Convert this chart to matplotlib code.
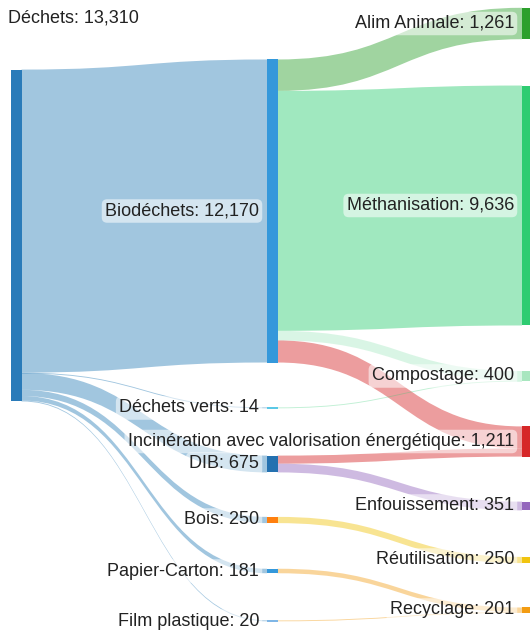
import matplotlib
matplotlib.use("Agg")
import matplotlib.pyplot as plt
from matplotlib.path import Path
from matplotlib.patches import PathPatch, Rectangle

# ---------------- data ----------------
node_names = ["Déchets", "Biodéchets", "Déchets verts", "DIB", "Bois", "Papier-Carton",
              "Film plastique", "Alim Animale", "Méthanisation", "Compostage",
              "Incinération avec valorisation énergétique", "Enfouissement",
              "Réutilisation", "Recyclage"]
link_source = ["Déchets", "Déchets", "Déchets", "Déchets", "Déchets", "Déchets",
               "Biodéchets", "Biodéchets", "Biodéchets", "Biodéchets",
               "Déchets verts", "DIB", "DIB", "Bois", "Papier-Carton", "Film plastique"]
link_target = ["Biodéchets", "Déchets verts", "DIB", "Bois", "Papier-Carton", "Film plastique",
               "Alim Animale", "Méthanisation", "Compostage",
               "Incinération avec valorisation énergétique",
               "Compostage", "Incinération avec valorisation énergétique", "Enfouissement",
               "Réutilisation", "Recyclage", "Recyclage"]
link_value = [12170, 14, 675, 250, 181, 20,
              1261, 9636, 386, 887,
              14, 324, 351, 250, 181, 20]

# ---------------- layout / style ----------------
node_column = [0, 1, 1, 1, 1, 1, 1, 2, 2, 2, 2, 2, 2, 2]
column_x = [11, 267, 522]
node_width = 10.5
node_center_y = [235.3, 211, 408, 464, 520, 571, 621, 23.5, 205.5, 376, 441.5, 506, 560, 610]
px_per_unit = 0.0249
min_h = 1.2

node_colors = ["#2a7bb9", "#3498db", "#5bc8e6", "#2471b0", "#ff7f0e", "#3498db", "#7fb6e6",
               "#2ca02c", "#2ecc71", "#a8e6bf", "#d62728", "#9467bd", "#f1c40f", "#f39c12"]
link_colors = {
    "Déchets": (31/255, 119/255, 180/255, 0.42),
    ("Biodéchets", "Alim Animale"): (44/255, 160/255, 44/255, 0.45),
    ("Biodéchets", "Méthanisation"): (46/255, 204/255, 113/255, 0.45),
    ("Biodéchets", "Compostage"): (46/255, 204/255, 113/255, 0.18),
    ("Déchets verts", "Compostage"): (46/255, 204/255, 113/255, 0.3),
    "Incinération avec valorisation énergétique": (214/255, 39/255, 40/255, 0.45),
    "Enfouissement": (148/255, 103/255, 189/255, 0.45),
    "Réutilisation": (241/255, 196/255, 15/255, 0.45),
    "Recyclage": (243/255, 156/255, 18/255, 0.42),
}

def link_color(s, t):
    if (s, t) in link_colors:
        return link_colors[(s, t)]
    if s in link_colors:
        return link_colors[s]
    return link_colors.get(t, (0.7, 0.7, 0.7, 0.4))

W, H = 530, 630
fig = plt.figure(figsize=(W / 100, H / 100), dpi=100)
ax = fig.add_axes([0, 0, 1, 1])
ax.set_xlim(0, W)
ax.set_ylim(H, 0)
ax.axis("off")

idx = {n: i for i, n in enumerate(node_names)}
n = len(node_names)
vin = [0] * n
vout = [0] * n
for s, t, v in zip(link_source, link_target, link_value):
    vout[idx[s]] += v
    vin[idx[t]] += v
node_value = [max(a, b) for a, b in zip(vin, vout)]
node_h = [max(v * px_per_unit, min_h) for v in node_value]
node_top = [c - h / 2 for c, h in zip(node_center_y, node_h)]
node_x0 = [column_x[c] for c in node_column]

# links
links = list(range(len(link_value)))
out_off = {}
in_off = {}
for i in range(n):
    outs = sorted([k for k in links if idx[link_source[k]] == i],
                  key=lambda k: node_center_y[idx[link_target[k]]])
    y = node_top[i]
    for k in outs:
        out_off[k] = y
        y += link_value[k] * px_per_unit
    ins = sorted([k for k in links if idx[link_target[k]] == i],
                 key=lambda k: node_center_y[idx[link_source[k]]])
    y = node_top[i]
    for k in ins:
        in_off[k] = y
        y += link_value[k] * px_per_unit

for k in links:
    s, t = idx[link_source[k]], idx[link_target[k]]
    w = max(link_value[k] * px_per_unit, 0.9)
    x0 = node_x0[s] + node_width
    x1 = node_x0[t]
    xm = (x0 + x1) / 2
    y0 = out_off[k]
    y1 = in_off[k]
    verts = [(x0, y0), (xm, y0), (xm, y1), (x1, y1),
             (x1, y1 + w),
             (xm, y1 + w), (xm, y0 + w), (x0, y0 + w),
             (x0, y0)]
    codes = [Path.MOVETO, Path.CURVE4, Path.CURVE4, Path.CURVE4,
             Path.LINETO,
             Path.CURVE4, Path.CURVE4, Path.CURVE4,
             Path.CLOSEPOLY]
    ax.add_patch(PathPatch(Path(verts, codes), facecolor=link_color(link_source[k], link_target[k]),
                           edgecolor="none", zorder=1))

# nodes
for i in range(n):
    ax.add_patch(Rectangle((node_x0[i], node_top[i]), node_width, node_h[i],
                           facecolor=node_colors[i], edgecolor="none", zorder=2))

# labels
font = dict(family=["Liberation Sans", "DejaVu Sans"], fontsize=13.0, color="#222222")
box = dict(boxstyle="round,pad=0.18,rounding_size=0.3", facecolor="white", alpha=0.55,
           edgecolor="none")
for i in range(n):
    label = f"{node_names[i]}: {node_value[i]:,}"
    if node_column[i] == 0:
        ax.text(8, 18, label, ha="left", va="center", zorder=3, **font)
    else:
        ax.text(node_x0[i] - 8, node_center_y[i], label, ha="right", va="center",
                zorder=3, bbox=box, **font)

fig.savefig("out.png", dpi=100)
